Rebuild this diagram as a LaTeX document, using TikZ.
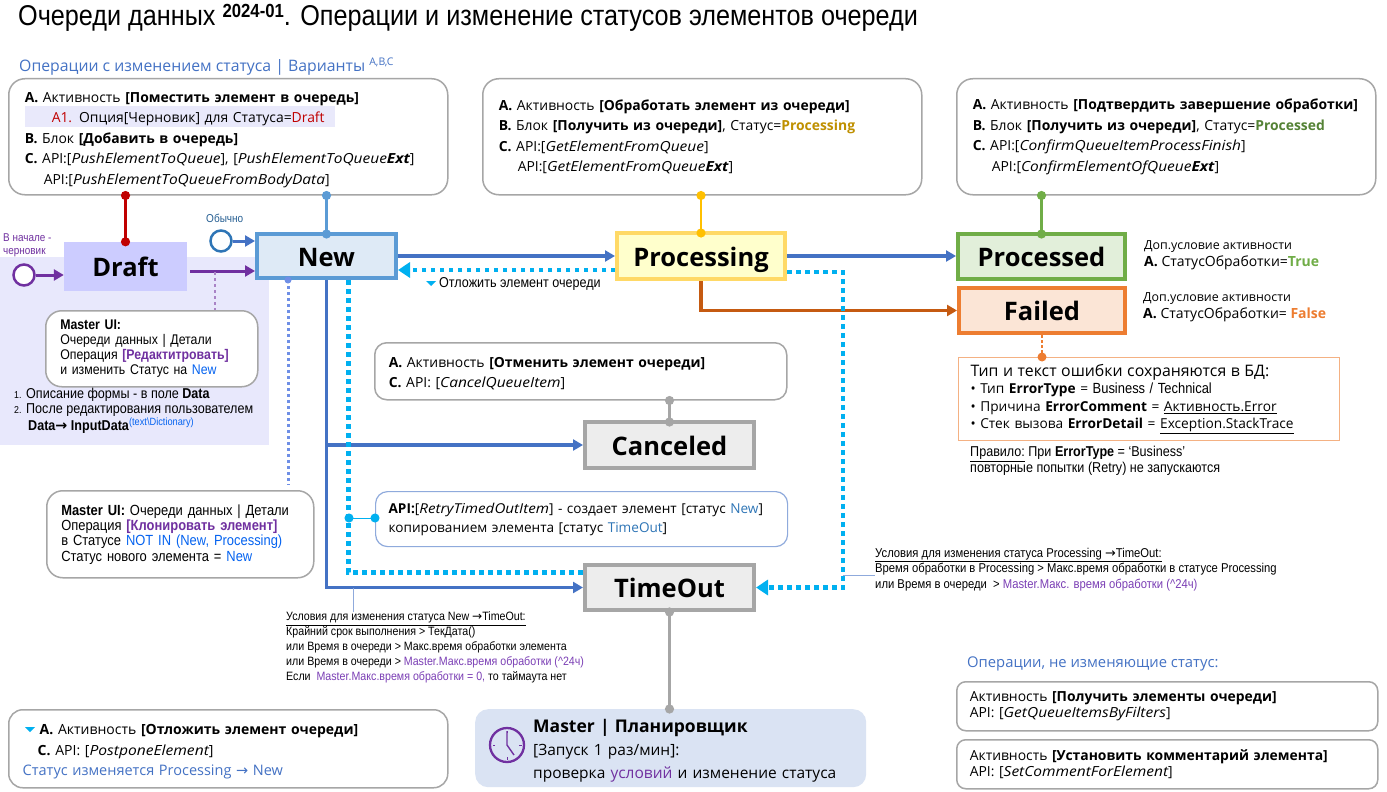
\documentclass[tikz,border=0pt]{standalone}
\usepackage{fontspec}
\setmainfont{Open Sans}
\newfontfamily\ar[FakeStretch=0.88]{Liberation Sans}
\newfontfamily\lab{Open Sans}
\newfontfamily\itf[FakeStretch=1.115]{Open Sans}
\newfontfamily\djv{DejaVu Sans}
\usetikzlibrary{arrows.meta,calc}
\definecolor{cgray}{HTML}{A6A6A6}
\definecolor{cblue}{HTML}{4472C4}
\definecolor{cnew}{HTML}{5B9BD5}
\definecolor{cpurple}{HTML}{7030A0}
\definecolor{ccyan}{HTML}{00B0F0}
\definecolor{cinl}{HTML}{0563F0}
\definecolor{cmid}{HTML}{2E75B6}
\definecolor{cpt}{HTML}{7B3FB5}
\definecolor{cred}{HTML}{C00000}
\definecolor{cyel}{HTML}{FFC000}
\definecolor{cgreen}{HTML}{70AD47}
\definecolor{corange}{HTML}{ED7D31}
\definecolor{cbrown}{HTML}{C55A11}
\definecolor{clight}{HTML}{8FAADC}
\definecolor{cdot}{HTML}{6F8FE6}
\definecolor{fbg}{HTML}{E8E8FC}
\definecolor{fhl}{HTML}{E9E9FB}
\definecolor{fdraft}{HTML}{CCCCFF}
\definecolor{fnew}{HTML}{DEEAF6}
\definecolor{fproc}{HTML}{FFFFCC}
\definecolor{dproc}{HTML}{FFD966}
\definecolor{fdone}{HTML}{E2EFDA}
\definecolor{ffail}{HTML}{FBE5D6}
\definecolor{fgray}{HTML}{EDEDED}
\definecolor{dorange}{HTML}{F4B183}
\definecolor{fsched}{HTML}{DAE3F3}
\newcommand{\fs}[2]{\fontsize{#1}{#2}\selectfont}
\newcommand{\api}[1]{{\itf\itshape #1}}
\newcommand{\rarr}{{\djv →}}
\newcommand{\dn}[1]{\rule{0pt}{#1pt}}
\tikzset{
  x=1pt,y=-1pt,
  rbox/.style={draw=cgray,line width=1.5pt,rounded corners=16pt,fill=white,anchor=north west,inner ysep=0pt,inner xsep=16pt,align=left,font=\lab\fs{13.9}{20.5}},
  uibox/.style={rbox,inner xsep=14.5pt,font=\ar\fs{14}{15.2}},
  stat/.style={draw,line width=4pt,outer sep=2pt,inner sep=0pt,font=\lab\bfseries\fs{25.5}{26},text height=20pt,text depth=0pt,minimum width=136pt,minimum height=45pt},
  flowline/.style={cblue,line width=3.2pt,-{Triangle[length=10pt,width=11pt]}},
  dotline/.style={ccyan,line width=4.3pt,dash pattern=on 4.5pt off 4.5pt},
  dotarrow/.style={dotline,-{Triangle[length=12pt,width=15pt]}},
  pin/.style={line width=#1,{Circle[length=9pt,width=9pt]}-{Circle[length=9pt,width=9pt]},shorten <=-4.5pt,shorten >=-4.5pt},
  startc/.style={circle,draw,line width=2.5pt,fill=white,minimum size=21pt,inner sep=0pt},
  plain/.style={anchor=north west,inner sep=0pt,align=left},
  note/.style={plain,font=\ar\fs{12.1}{15}},
}
\begin{document}
\begin{tikzpicture}
\useasboundingbox (0,0) rectangle (1387,792);
% backgrounds
\fill[white] (0,0) rectangle (1387,792);
\fill[fbg] (0,257) rectangle (269,445);
% title
\node[plain,font=\ar\fs{28.65}{30}] (title) at (18,4) {Очереди данных \raisebox{8pt}{\fs{19}{20}\bfseries 2024-01}. Операции и изменение статусов элементов очереди};
\node[plain,font=\lab\fs{15.8}{18},text=cblue] (hdr) at (19,58) {Операции с изменением статуса | Варианты \raisebox{6pt}{\fs{10.5}{10}A,B,C}};
% top boxes
\fill[fhl] (25,106) rectangle (335,127);
\node[rbox,fill=none,minimum width=439pt,minimum height=116pt,text width=407pt] (boxA) at (8,78)
{\dn{16}\textbf{A.} Активность \textbf{[Поместить элемент в очередь]}\\
\hspace*{27pt}\textcolor{cred}{A1.} Опция[Черновик] для Статуса=\textcolor{cred}{Draft}\\
\textbf{B.} Блок \textbf{[Добавить в очередь]}\\
\textbf{C.} API:[\api{PushElementToQueue}], [\api{PushElementToQueue\textbf{Ext}}]\\
\hspace*{19pt}API:[\api{PushElementToQueueFromBodyData}]};
\node[rbox,minimum width=439pt,minimum height=116pt,text width=407pt] (boxB) at (482,78)
{\textbf{A.} Активность \textbf{[Обработать элемент из очереди]}\\
\textbf{B.} Блок \textbf{[Получить из очереди]}, Статус=\textcolor[HTML]{BF9000}{\textbf{Processing}}\\
\textbf{C.} API:[\api{GetElementFromQueue}]\\
\hspace*{19pt}API:[\api{GetElementFromQueue\textbf{Ext}}]};
\node[rbox,minimum width=419pt,minimum height=116pt,text width=387pt] (boxC) at (956,78)
{\textbf{A.} Активность \textbf{[Подтвердить завершение обработки]}\\
\textbf{B.} Блок \textbf{[Получить из очереди]}, Статус=\textcolor[HTML]{548235}{\textbf{Processed}}\\
\textbf{C.} API:[\api{ConfirmQueueItemProcessFinish}]\\
\hspace*{19pt}API:[\api{ConfirmElementOfQueue\textbf{Ext}}]};
% status nodes
\node[fill=fdraft,inner sep=0pt,font=\lab\bfseries\fs{25.5}{26},text height=20pt,text depth=0pt,minimum width=123pt,minimum height=49pt] (Draft) at (125.5,266.5) {Draft};
\node[stat,draw=cnew,fill=fnew,minimum width=139pt,minimum height=44pt] (New) at (326.5,256) {New};
\node[stat,draw=dproc,fill=fproc,minimum width=168pt,minimum height=46pt] (Proc) at (701,256) {Processing};
\node[stat,draw=cgreen,fill=fdone,minimum width=167pt,minimum height=45pt] (Processed) at (1041.5,256.5) {Processed};
\node[stat,draw=corange,fill=ffail,minimum width=166pt,minimum height=45pt] (Failed) at (1042,310.5) {Failed};
\node[stat,draw=cgray,fill=fgray,minimum width=169pt,minimum height=46pt] (Canceled) at (669.5,445) {Canceled};
\node[stat,draw=cgray,fill=fgray,minimum width=169pt,minimum height=45pt] (TimeOut) at (669.5,587.5) {TimeOut};
% start circles
\node[startc,draw=cpurple] (startD) at (24,275) {};
\node[startc,draw=cmid] (startN) at (221,241) {};
\node[plain,font=\ar\fs{11.3}{12.5},text=cpurple] (lbD) at (3,234) {В начале -\\черновик};
\node[plain,font=\ar\fs{11.4}{12},text=cmid!80!black] (lbN) at (206,214) {Обычно};
% text boxes
\node[uibox,minimum width=212pt,minimum height=76pt,text width=183pt] (ui1) at (45,310)
{\textbf{Master UI:}\\Очереди данных | Детали\\Операция \textcolor{cpurple}{\textbf{[Редактитровать]}}\\и изменить Статус на \textcolor{cinl}{New}};
\node[plain,font=\ar\fs{14.3}{15}] (list) at (14,388)
{{\fs{10}{15}1.} Описание формы - в поле \textbf{Data}\\
{\fs{10}{15}2.} После редактирования пользователем\\
\hspace*{14pt}\textbf{Data\rarr{} InputData}\raisebox{5pt}{\textcolor{cinl}{\fs{10.5}{10}(text\textbackslash Dictionary)}}};
\node[uibox,font=\ar\fs{14.7}{15.3},minimum width=267pt,minimum height=87pt,text width=238pt] (ui2) at (46,490)
{\textbf{Master UI:} Очереди данных | Детали\\Операция \textcolor{cpurple}{\textbf{[Клонировать элемент]}}\\в Статусе \textcolor{cinl}{NOT IN (New, Processing)}\\Статус нового элемента = \textcolor{cinl}{New}};
\node[rbox,rounded corners=12pt,inner xsep=14pt,font=\lab\fs{13.9}{20},minimum width=412pt,minimum height=57pt,text width=384pt] (cancel) at (374,342)
{\dn{14.5}\textbf{A.} Активность \textbf{[Отменить элемент очереди]}\\\textbf{C.} API: [\api{CancelQueueItem}]};
\node[rbox,draw=clight,line width=1.2pt,rounded corners=12pt,font=\lab\fs{13.6}{18.8},minimum width=412pt,minimum height=55pt,text width=386pt,inner xsep=13pt] (retry) at (375,491)
{\textbf{API:}[\api{RetryTimedOutItem}] - создает элемент [статус \textcolor{cmid}{New}]\\копированием элемента [статус \textcolor{cmid}{TimeOut}]};
% right texts
\node[plain,font=\lab\fs{12.4}{17}] (condP) at (1144,240) {Доп.условие активности\\{\fs{14}{17}\textbf{A.} СтатусОбработки=\textcolor{cgreen}{\textbf{True}}}};
\node[plain,font=\lab\fs{12.4}{17}] (condF) at (1143,292) {Доп.условие активности\\{\fs{14}{17}\textbf{A.} СтатусОбработки= \textcolor{corange}{\textbf{False}}}};
\node[draw=dorange,line width=1.2pt,fill=white,anchor=north west,inner sep=0pt,inner xsep=12pt,align=left,minimum width=381pt,minimum height=83pt,text width=357pt,font=\lab\fs{13.7}{17.5}] (err) at (958,357)
{{\fs{15.85}{20}Тип и текст ошибки сохраняются в БД:}\\
• Тип \textbf{ErrorType} = {\ar\fs{14.7}{17}Business / Technical}\\
• Причина \textbf{ErrorComment} = \underline{Активность.Error}\\
• Стек вызова \textbf{ErrorDetail} = \underline{Exception.StackTrace}};
\node[note,font=\ar\fs{14.3}{15}] (rule) at (970,446) {\underline{Правило:} При \textbf{ErrorType} = ‘Business’\\повторные попытки (Retry) не запускаются};
\node[plain,font=\ar\fs{14.3}{15}] (postlbl) at (439,277) {Отложить элемент очереди};
\node[note] (condN) at (286,612) {\underline{Условия для изменения статуса New \rarr TimeOut:}\\Крайний срок выполнения > ТекДата()\\или Время в очереди > Макс.время обработки элемента\\или Время в очереди > \textcolor{cpt}{Master.Макс.время обработки (\textasciicircum 24ч)}\\Если~ \textcolor{cpt}{Master.Макс.время обработки = 0,} то таймаута нет};
\node[note,font=\ar\fs{12.8}{15.4}] (condT) at (875,548) {\underline{Условия для изменения статуса Processing \rarr TimeOut:}\\Время обработки в Processing > Макс.время обработки в статусе Processing\\или Время в очереди~ > \textcolor{cpt}{Master.Макс. время обработки (\textasciicircum 24ч)}};
% bottom
\node[rbox,rounded corners=14pt,font=\lab\fs{14}{20.5},minimum width=439pt,minimum height=78pt,text width=411pt,inner xsep=14pt] (post) at (8,709)
{\dn{16}\hspace*{17pt}\textbf{A.} Активность \textbf{[Отложить элемент очереди]}\\\hspace*{15pt}\textbf{C.} API: [\api{PostponeElement}]\\\textcolor{cblue}{\fs{14.5}{20.5}Статус изменяется Processing \rarr{} New}};
\node[fill=fsched,rounded corners=13pt,anchor=north west,inner sep=0pt,inner xsep=29pt,align=left,minimum width=391pt,minimum height=78pt,text width=333pt,font=\lab\fs{15.5}{23}] (sched) at (475,709)
{\dn{18}\hspace*{29pt}{\fs{17.5}{23}\textbf{Master | Планировщик}}\\\hspace*{29pt}{[}Запуск 1 раз/мин]:\\\hspace*{29pt}проверка \textcolor{cpurple}{условий} и изменение статуса};
\node[plain,font=\lab\fs{14.8}{16},text=cblue] (hdr2) at (967,657) {Операции, не изменяющие статус:};
\node[rbox,rounded corners=9pt,inner xsep=13pt,font=\lab\fs{13.9}{16},minimum width=421pt,minimum height=49pt,text width=395pt] (q1) at (956,681)
{Активность \textbf{[Получить элементы очереди]}\\API: [\api{GetQueueItemsByFilters}]};
\node[rbox,rounded corners=9pt,inner xsep=13pt,font=\lab\fs{13.9}{16},minimum width=421pt,minimum height=49pt,text width=395pt] (q2) at (956,739)
{Активность \textbf{[Установить комментарий элемента]}\\API: [\api{SetCommentForElement}]};
% clock icon
\node[circle,draw=cpurple,line width=2.3pt,minimum size=34pt,inner sep=0pt] (clock) at (507,745) {};
\draw[cpurple,line width=1.4pt] (507,731) -- (507,745) -- (514,755);
\foreach \a in {0,90,180,270} \draw[cpurple,line width=1pt] (clock.center) ++(\a:12pt) -- ++(\a:2.5pt);
% small triangles
\fill[ccyan] (426,281) -- (436,281) -- (431,286) -- cycle;
\fill[ccyan] (25,727) -- (35,727) -- (30,732) -- cycle;
% pins
\draw[pin=2.5pt,cred] (Draft.north |- boxA.south) -- (Draft.north);
\draw[pin=2.5pt,cnew] (New.north |- boxA.south) -- ([yshift=-2pt]New.north);
\draw[pin=2.5pt,cyel] (Proc.north |- boxB.south) -- ([yshift=-2pt]Proc.north);
\draw[pin=2.5pt,cgreen] (Processed.north |- boxC.south) -- ([yshift=-2pt]Processed.north);
\draw[pin=2.5pt,cgray] (Canceled.north |- cancel.south) -- ([yshift=-2pt]Canceled.north);
\draw[pin=3pt,cgray] (TimeOut.south) -- (TimeOut.south |- sched.north);
% start arrows
\draw[cpurple,line width=3pt,-{Triangle[length=10pt,width=11pt]}] (startD.east) -- (startD.east -| Draft.west);
\draw[cblue,line width=3pt,-{Triangle[length=10pt,width=11pt]}] (startN.east) -- (startN.east -| New.west);
% Draft->New and note
\coordinate (dn) at (190,271);
\coordinate (dnd) at (215,272);
\draw[cpurple,line width=3pt,-{Triangle[length=10pt,width=11pt]}] (dn) -- (dn -| New.west);
\draw[cpurple!60,line width=2.5pt,dash pattern=on 3pt off 3pt] (dnd) -- (dnd |- ui1.north);
% flows
\draw[flowline] (New.east) -- (New.east -| Proc.west);
\draw[flowline] (Proc.east) -- (Proc.east -| Processed.west);
\draw[flowline,draw=cbrown,-{Triangle[length=10pt,width=11pt,fill=cbrown]}] (Proc.south) |- (Failed.west);
\draw[flowline] (New.south) |- (TimeOut.west);
\draw[flowline] (New.south |- Canceled.west) -- (Canceled.west);
% dotted
\draw[dotarrow] ([yshift=-14pt]Proc.west) -- ([yshift=-14pt]New.east);
\draw[dotline] ([xshift=22pt]New.south) |- ([yshift=15pt]TimeOut.west);
\coordinate (pc) at (843,272);
\draw[dotarrow] ([yshift=-16pt]Proc.east) -- (pc) -- (pc |- TimeOut.east) -- (TimeOut.east);
\coordinate (cloneTop) at (288,280);
\fill[cdot] (cloneTop) circle (3.5pt);
\draw[cdot,line width=3pt,dash pattern=on 3pt off 3pt,shorten >=5pt] (cloneTop) -- (cloneTop |- ui2.north);
\coordinate (rd) at (349,518);
\draw[pin=1pt,ccyan] (rd -| retry.west) -- (rd);
% failed->err
\draw[corange,line width=2.5pt,dash pattern=on 2.5pt off 2.5pt] (Failed.south) -- (err.north -| Failed.south);
\fill[corange] (err.north -| Failed.south) circle (4.5pt);
% thin
\coordinate (tn) at (353,588);
\draw[clight,line width=1pt] (tn) -- (tn |- condN.north);
\coordinate (tt) at (843,575);
\draw[clight,line width=1pt] (tt) -- (tt -| condT.west);
\end{tikzpicture}
\end{document}
